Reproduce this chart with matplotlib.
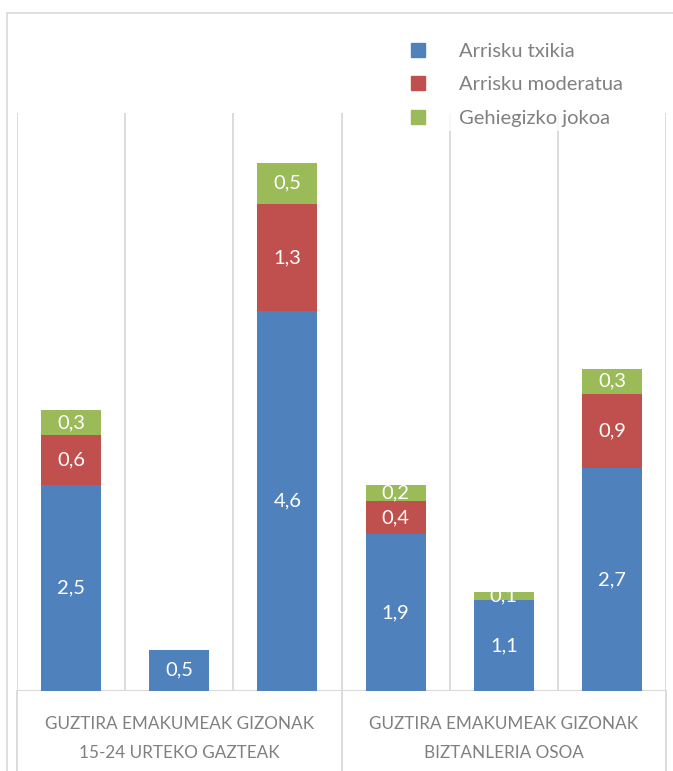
import numpy as np
from matplotlib import pyplot as plt
from matplotlib.lines import Line2D
from matplotlib.patches import Rectangle

# data
series = ['Arrisku txikia', 'Arrisku moderatua', 'Gehiegizko jokoa']
txikia = [2.5, 0.5, 4.6, 1.9, 1.1, 2.7]
moderatua = [0.6, 0.0, 1.3, 0.4, 0.0, 0.9]
gehiegizko = [0.3, 0.0, 0.5, 0.2, 0.1, 0.3]
inner_labels = 'GUZTIRA EMAKUMEAK GIZONAK'
groups = ['15-24 URTEKO GAZTEAK', 'BIZTANLERIA OSOA']

colors = ['#4F81BD', '#C0504D', '#9BBB59']
grid_c = '#D9D9D9'
txt_c = '#808080'
plt.rcParams['font.family'] = ['Lato', 'DejaVu Sans']

W, H = 673, 771
fig = plt.figure(figsize=(W / 100, H / 100), dpi=100)
ax = fig.add_axes([17 / W, 80 / H, 649 / W, 578 / H])

# outer frame
fig.patches.append(Rectangle((7 / W, -0.1), 1.1, 1 - 13 / H + 0.1,
                             transform=fig.transFigure, fill=False,
                             edgecolor=grid_c, linewidth=1.2))

x = np.arange(len(txikia)) + 0.5
bw = 0.555
stacks = [txikia, moderatua, gehiegizko]
bottom = np.zeros(len(x))
for vals, c in zip(stacks, colors):
    vals = np.array(vals)
    ax.bar(x, vals, bw, bottom=bottom, color=c, zorder=3)
    for xi, b, v in zip(x, bottom, vals):
        if v > 0:
            ax.text(xi, b + v / 2, ('%.1f' % v).replace('.', ','),
                    ha='center', va='center', color='white', fontsize=14.5,
                    zorder=4)
    bottom = bottom + vals

ax.set_xlim(0, 6)
ax.set_ylim(0, 7)
for s in ax.spines.values():
    s.set_visible(False)
ax.set_xticks([])
ax.set_yticks([])
for gx in range(7):
    ax.axvline(gx, color=grid_c, linewidth=1.3, zorder=1)
ax.axhline(0, color=grid_c, linewidth=1.5, zorder=2)

# category separators below the axis
for gx in [0, 3, 6]:
    ax.plot([gx, gx], [0, -0.2], color=grid_c, linewidth=1.3,
            transform=ax.get_xaxis_transform(), clip_on=False)

for i, g in enumerate(groups):
    cx = 1.5 + 3 * i
    ax.text(cx, -33 / 578, inner_labels, transform=ax.get_xaxis_transform(),
            ha='center', va='center', color=txt_c, fontsize=12.3)
    ax.text(cx, -62 / 578, g, transform=ax.get_xaxis_transform(),
            ha='center', va='center', color=txt_c, fontsize=12.3)

handles = [Line2D([], [], marker='s', linestyle='none', markersize=10.5,
                  markerfacecolor=c, markeredgecolor=c) for c in colors]
leg = fig.legend(handles, series, loc='upper left',
                 bbox_to_anchor=(392 / W, 1 - 29 / H), frameon=True,
                 facecolor='white', edgecolor='none', fontsize=14.5,
                 handletextpad=1.45, labelspacing=0.8, borderpad=0.2,
                 handlelength=1.2)
for t in leg.get_texts():
    t.set_color(txt_c)

fig.savefig('out.png', dpi=100)
